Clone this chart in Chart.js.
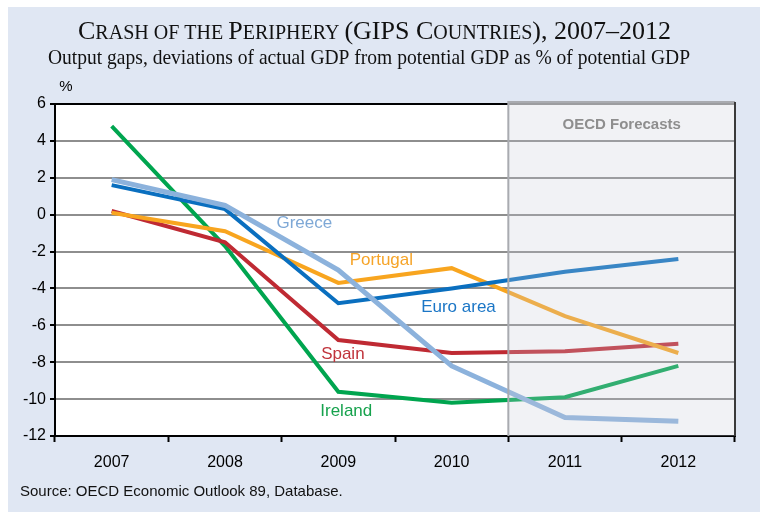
<!DOCTYPE html>
<html><head><meta charset="utf-8">
<script src="https://cdn.jsdelivr.net/npm/chart.js@4/dist/chart.umd.min.js"></script>
<style>html,body{margin:0;padding:0;background:#fff;}</style>
</head><body>
<canvas id="c" width="760" height="512"></canvas>
<script>
const years = ['2007','2008','2009','2010','2011','2012'];
const greece   = [1.9, 0.5, -3.0, -8.2, -11.0, -11.2];
const euroArea = [1.6, 0.3, -4.8, -4.0, -3.1, -2.4];
const portugal = [0.1, -0.9, -3.7, -2.9, -5.5, -7.5];
const spain    = [0.2, -1.5, -6.8, -7.5, -7.4, -7.0];
const ireland  = [4.8, -1.7, -9.6, -10.2, -9.9, -8.2];
const seriesNames = ['Greece','Euro area','Portugal','Spain','Ireland'];
const yMin = -12, yMax = 6, yStep = 2;
const forecastStart = 3.5; // between 2010 and 2011 (category index)
const subtitleText = 'Output gaps, deviations of actual GDP from potential GDP as % of potential GDP';
const sourceText = 'Source: OECD Economic Outlook 89, Database.';

const colors = {
  'Greece': '#8cb2dc',
  'Euro area': '#0a6fbf',
  'Portugal': '#f8a51f',
  'Spain': '#bf2a33',
  'Ireland': '#00a54f'
};
const labelColors = {
  'Greece': '#7ea8d6',
  'Euro area': '#1b76c6',
  'Portugal': '#f6a428',
  'Spain': '#c0333b',
  'Ireland': '#16a24d'
};
// label anchors in data coordinates (category index, value)
const labelAnchors = {
  'Greece': [1.70, -0.45],
  'Portugal': [2.38, -2.46],
  'Euro area': [3.06, -5.0],
  'Spain': [2.04, -7.55],
  'Ireland': [2.07, -10.65]
};

const dataMap = {'Greece': greece, 'Euro area': euroArea, 'Portugal': portugal, 'Spain': spain, 'Ireland': ireland};

const datasets = seriesNames.map(n => ({
  label: n,
  data: dataMap[n],
  borderColor: colors[n],
  backgroundColor: colors[n],
  borderWidth: n === 'Greece' ? 5 : 4,
  pointRadius: 0,
  tension: 0,
  fill: false,
  borderJoinStyle: 'miter'
}));

function fitText(ctx, text, x, y, targetW) {
  const w = ctx.measureText(text).width;
  ctx.save();
  ctx.translate(x, y);
  ctx.scale(targetW / w, 1);
  ctx.fillText(text, 0, 0);
  ctx.restore();
}

const decor = {
  id: 'decor',
  beforeDraw(chart) {
    const ctx = chart.ctx, a = chart.chartArea;
    ctx.save();
    ctx.fillStyle = '#ffffff';
    ctx.fillRect(0, 0, chart.width, chart.height);
    ctx.fillStyle = '#e0e7f3';
    ctx.fillRect(8, 7, chart.width - 8, chart.height - 7);
    ctx.fillStyle = '#ffffff';
    ctx.fillRect(a.left, a.top, a.right - a.left, a.bottom - a.top);
    ctx.restore();
  },
  afterDatasetsDraw(chart) {
    const ctx = chart.ctx, a = chart.chartArea;
    const xs = chart.scales.x, ys = chart.scales.y;
    const bx = xs.getPixelForValue(forecastStart);
    ctx.save();
    ctx.fillStyle = 'rgba(200,205,215,0.25)';
    ctx.fillRect(bx, a.top - 2, a.right - bx, a.bottom - a.top + 2);
    ctx.strokeStyle = '#000';
    ctx.lineWidth = 2;
    ctx.beginPath();
    ctx.moveTo(a.left, a.top);
    ctx.lineTo(bx, a.top);
    ctx.stroke();
    ctx.strokeStyle = '#a9abb0';
    ctx.lineWidth = 2;
    ctx.beginPath();
    ctx.moveTo(bx, a.bottom);
    ctx.lineTo(bx, a.top - 2);
    ctx.lineTo(a.right, a.top - 2);
    ctx.stroke();
    ctx.strokeStyle = '#3a3a3a';
    ctx.beginPath();
    ctx.moveTo(a.right, a.top - 2);
    ctx.lineTo(a.right, a.bottom);
    ctx.stroke();
    ctx.fillStyle = '#8e8e8e';
    ctx.font = 'bold 15px "Liberation Sans", Arial, sans-serif';
    ctx.textAlign = 'center';
    ctx.textBaseline = 'middle';
    ctx.fillText('OECD Forecasts', (bx + a.right) / 2, a.top + 21);
    ctx.font = '17px "Liberation Sans", Arial, sans-serif';
    for (const n of seriesNames) {
      const [cx, cy] = labelAnchors[n];
      ctx.fillStyle = labelColors[n];
      ctx.fillText(n, xs.getPixelForValue(cx), ys.getPixelForValue(cy));
    }
    ctx.restore();
  },
  afterDraw(chart) {
    const ctx = chart.ctx;
    ctx.save();
    const big = '26px "Liberation Serif", "Times New Roman", serif';
    const small = '20px "Liberation Serif", "Times New Roman", serif';
    const segs = [['C', big], ['RASH OF THE ', small], ['P', big], ['ERIPHERY ', small], ['(GIPS C', big], ['OUNTRIES', small], ['), 2007–2012', big]];
    let total = 0;
    for (const [t, f] of segs) { ctx.font = f; total += ctx.measureText(t).width; }
    const targetW = 593, sx = targetW / total;
    let x = 78;
    ctx.fillStyle = '#111';
    ctx.textBaseline = 'alphabetic';
    ctx.textAlign = 'left';
    for (const [t, f] of segs) {
      ctx.font = f;
      const w = ctx.measureText(t).width;
      ctx.save();
      ctx.translate(x, 39);
      ctx.scale(sx, 1);
      ctx.fillText(t, 0, 0);
      ctx.restore();
      x += w * sx;
    }
    ctx.font = '21px "Liberation Serif", "Times New Roman", serif';
    fitText(ctx, subtitleText, 48, 64, 642);
    ctx.font = '15px "Liberation Sans", Arial, sans-serif';
    ctx.textAlign = 'center';
    ctx.textBaseline = 'middle';
    ctx.fillStyle = '#000';
    ctx.fillText('%', 66, 87);
    ctx.font = '15px "Liberation Sans", Arial, sans-serif';
    ctx.textAlign = 'left';
    ctx.fillStyle = '#111';
    ctx.fillText(sourceText, 20, 492);
    ctx.restore();
  }
};

new Chart(document.getElementById('c'), {
  type: 'line',
  data: { labels: years, datasets },
  options: {
    responsive: false,
    animation: false,
    devicePixelRatio: 1,
    layout: { padding: { top: 104, left: 0, right: 25, bottom: 36 } },
    plugins: { legend: { display: false }, tooltip: { enabled: false }, title: { display: false } },
    scales: {
      x: {
        type: 'category',
        offset: true,
        grid: { offset: true, drawOnChartArea: false, drawTicks: true, tickLength: 6, tickColor: '#000', tickWidth: 2 },
        border: { color: '#000', width: 2 },
        ticks: { color: '#000', font: { family: '"Liberation Sans", Arial, sans-serif', size: 16 }, padding: 11, maxRotation: 0 },
        afterFit(s) { s.height = 40; }
      },
      y: {
        min: yMin, max: yMax,
        grid: { color: '#8e8e8e', lineWidth: 2, tickLength: 5, tickColor: '#000', tickWidth: 2 },
        border: { color: '#000', width: 2 },
        ticks: { stepSize: yStep, color: '#000', font: { family: '"Liberation Sans", Arial, sans-serif', size: 16 }, padding: 4 },
        afterFit(s) { s.width = 55; }
      }
    }
  },
  plugins: [decor]
});
</script>
</body></html>
